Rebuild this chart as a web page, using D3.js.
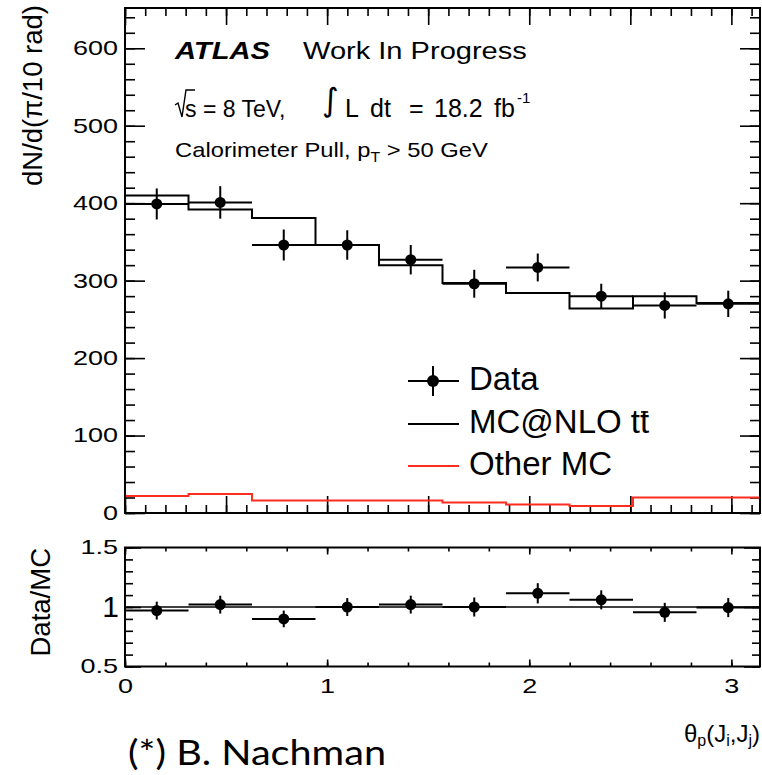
<!DOCTYPE html>
<html>
<head>
<meta charset="utf-8">
<style>
body { margin: 0; background: #fff; }
svg { display: block; font-family: "Liberation Sans", Arial, sans-serif; }
.frame { fill: none; stroke: #000; stroke-width: 2; }
.tick line { stroke: #000; stroke-width: 1.6; }
.tick text { fill: #000; }
.err { stroke: #000; stroke-width: 2; }
</style>
</head>
<body>
<svg id="svg" width="762" height="775"></svg>
<script src="https://cdn.jsdelivr.net/npm/d3@7"></script>
<script>
// bins of pi/10 in theta_p
var binEdges = [0, 0.3142, 0.6283, 0.9425, 1.2566, 1.5708, 1.8850, 2.1991, 2.5133, 2.8274, 3.1416];
var dataVals = [399, 401, 346, 346, 327, 296, 317, 280, 268, 270];
var dataErr = [20, 21, 20, 19, 19, 18, 18, 16, 17, 17];
var mcVals = [410, 392, 381, 346, 320, 297, 284, 264, 280, 271];
var otherVals = [22, 24.5, 16, 16, 16, 13.5, 11, 9, 20, 20];
var ratioVals = [0.97, 1.02, 0.90, 1.0, 1.02, 1.0, 1.115, 1.06, 0.955, 0.995];
var ratioErr = [0.075, 0.075, 0.07, 0.075, 0.075, 0.08, 0.085, 0.08, 0.08, 0.08];
var mainTicks = [0, 100, 200, 300, 400, 500, 600];
var ratioTicks = [0.5, 1, 1.5];
var xLabelTicks = [0, 1, 2, 3];
var legendNames = ["Data", "MC@NLO tt", "Other MC"];

var left = 125, right = 760;
var mainTop = 8, mainBottom = 513;
var ratioTop = 547.5, ratioBottom = 666.5;

var svg = d3.select("#svg");

var x = d3.scaleLinear().domain([0, Math.PI]).range([left, right]);
var y = d3.scaleLinear().domain([0, 652]).range([mainBottom, mainTop]);
var yr = d3.scaleLinear().domain([0.5, 1.5]).range([ratioBottom, ratioTop]);
var fmt = d3.format("~g");

function ticks(axisFn, scale, vals, size, tx, ty, withLabels) {
    var ax = axisFn(scale).tickValues(vals).tickSize(size).tickFormat(withLabels ? fmt : "");
    var g = svg.append("g")
        .attr("transform", "translate(" + tx + "," + ty + ")")
        .call(ax);
    g.select(".domain").remove();
    return g;
}
function steps(a, b, s) {
    // tick positions only
    return d3.range(Math.round((b - a) / s) + 1).map(function (i) { return +(a + i * s).toFixed(4); });
}

// ---- main pad ticks (all pointing inward, ROOT style)
var lab = ticks(d3.axisLeft, y, mainTicks, -20, left, 0, true).attr("font-size", 20);
lab.selectAll("text").attr("x", -7 / 1.35).attr("transform", "scale(1.35,1)").attr("font-family", "Liberation Sans");
ticks(d3.axisLeft, y, steps(0, 640, 20), -10, left, 0, false);
ticks(d3.axisRight, y, mainTicks, -20, right, 0, false);
ticks(d3.axisRight, y, steps(0, 640, 20), -10, right, 0, false);
ticks(d3.axisBottom, x, steps(0, 3, 0.5), -17, 0, mainBottom, false);
ticks(d3.axisBottom, x, steps(0, 3.1, 0.1), -8, 0, mainBottom, false);
ticks(d3.axisTop, x, steps(0, 3, 0.5), -17, 0, mainTop, false);
ticks(d3.axisTop, x, steps(0, 3.1, 0.1), -8, 0, mainTop, false);

// ---- histograms
var step = d3.line()
    .x(function (d) { return x(d[0]); })
    .y(function (d) { return y(d[1]); })
    .curve(d3.curveStepAfter);
function stepPts(vals) {
    var p = vals.map(function (v, i) { return [binEdges[i], v]; });
    p.push([binEdges[vals.length], vals[vals.length - 1]]);
    return p;
}
svg.append("path").attr("d", step(stepPts(mcVals)))
    .attr("fill", "none").attr("stroke", "#000").attr("stroke-width", 2);
svg.append("path").attr("d", step(stepPts(otherVals)))
    .attr("fill", "none").attr("stroke", "#ff2d1e").attr("stroke-width", 2);

// data points
var pts = svg.append("g").selectAll("g").data(dataVals).enter().append("g");
pts.append("line").attr("class", "err")
    .attr("x1", function (d, i) { return x(binEdges[i]); })
    .attr("x2", function (d, i) { return x(binEdges[i + 1]); })
    .attr("y1", function (d) { return y(d); }).attr("y2", function (d) { return y(d); });
pts.append("line").attr("class", "err")
    .attr("x1", function (d, i) { return x((binEdges[i] + binEdges[i + 1]) / 2); })
    .attr("x2", function (d, i) { return x((binEdges[i] + binEdges[i + 1]) / 2); })
    .attr("y1", function (d, i) { return y(d - dataErr[i]); })
    .attr("y2", function (d, i) { return y(d + dataErr[i]); });
pts.append("circle").attr("r", 5.5)
    .attr("cx", function (d, i) { return x((binEdges[i] + binEdges[i + 1]) / 2); })
    .attr("cy", function (d) { return y(d); });

svg.append("rect").attr("class", "frame")
    .attr("x", left).attr("y", mainTop).attr("width", right - left).attr("height", mainBottom - mainTop);

// ---- ratio pad
var rl = ticks(d3.axisLeft, yr, ratioTicks, -16, left, 0, true).attr("font-size", 20);
rl.selectAll("text").attr("x", -7 / 1.35).attr("transform", "scale(1.35,1)").attr("font-family", "Liberation Sans");
// the "1" label is drawn larger in the picture
rl.selectAll(".tick").filter(function (d) { return d === 1; }).select("text")
    .attr("font-size", 30).attr("x", -6).attr("transform", null);
ticks(d3.axisLeft, yr, steps(0.5, 1.5, 0.1), -8, left, 0, false);
ticks(d3.axisRight, yr, ratioTicks, -16, right, 0, false);
ticks(d3.axisRight, yr, steps(0.5, 1.5, 0.1), -8, right, 0, false);
var bl = ticks(d3.axisBottom, x, xLabelTicks, -7, 0, ratioBottom, true).attr("font-size", 20);
bl.selectAll("text").attr("y", 12).attr("transform", "scale(1.35,1)").attr("font-family", "Liberation Sans");
ticks(d3.axisBottom, x, steps(0, 3, 0.2), -4, 0, ratioBottom, false);
ticks(d3.axisTop, x, xLabelTicks, -7, 0, ratioTop, false);
ticks(d3.axisTop, x, steps(0, 3, 0.2), -4, 0, ratioTop, false);

svg.append("line").attr("x1", left).attr("x2", right)
    .attr("y1", yr(1)).attr("y2", yr(1)).attr("stroke", "#000").attr("stroke-width", 1.6);

var rp = svg.append("g").selectAll("g").data(ratioVals).enter().append("g");
rp.append("line").attr("class", "err")
    .attr("x1", function (d, i) { return x(binEdges[i]); })
    .attr("x2", function (d, i) { return x(binEdges[i + 1]); })
    .attr("y1", function (d) { return yr(d); }).attr("y2", function (d) { return yr(d); });
rp.append("line").attr("class", "err")
    .attr("x1", function (d, i) { return x((binEdges[i] + binEdges[i + 1]) / 2); })
    .attr("x2", function (d, i) { return x((binEdges[i] + binEdges[i + 1]) / 2); })
    .attr("y1", function (d, i) { return yr(d - ratioErr[i]); })
    .attr("y2", function (d, i) { return yr(d + ratioErr[i]); });
rp.append("circle").attr("r", 5.5)
    .attr("cx", function (d, i) { return x((binEdges[i] + binEdges[i + 1]) / 2); })
    .attr("cy", function (d) { return yr(d); });

svg.append("rect").attr("class", "frame")
    .attr("x", left).attr("y", ratioTop).attr("width", right - left).attr("height", ratioBottom - ratioTop);

// ---- axis titles
svg.append("text").attr("transform", "translate(42,5) rotate(-90)")
    .attr("text-anchor", "end").attr("font-size", 27.5).text("dN/d(\u03c0/10 rad)");
svg.append("text").attr("transform", "translate(50,548) rotate(-90)")
    .attr("text-anchor", "end").attr("font-size", 27.5).text("Data/MC");
var xt = svg.append("text").attr("x", 760).attr("y", 742).attr("text-anchor", "end").attr("font-size", 24);
xt.append("tspan").text("\u03b8");
xt.append("tspan").attr("font-size", 16).attr("dy", 4).text("p");
xt.append("tspan").attr("dy", -4).text("(J");
xt.append("tspan").attr("font-size", 16).attr("dy", 4).text("i");
xt.append("tspan").attr("dy", -4).text(",J");
xt.append("tspan").attr("font-size", 16).attr("dy", 4).text("j");
xt.append("tspan").attr("dy", -4).text(")");

// ---- ATLAS labels, stretched to the widths in the picture
function stretched(x0, x1, yb, size, str, opts) {
    var t = svg.append("text").attr("y", yb).attr("font-size", size).text(str);
    if (opts) for (var k in opts) t.attr(k, opts[k]);
    var w = t.node().getBBox().width;
    t.attr("transform", "translate(" + x0 + ",0) scale(" + ((x1 - x0) / w) + ",1)");
    return t;
}
stretched(175, 272, 59, 23, "ATLAS", { "font-weight": "bold", "font-style": "italic" });
stretched(303, 527, 59, 23, "Work In Progress");

// sqrt(s) = 8 TeV, int L dt = 18.2 fb-1
svg.append("path").attr("d", "M175,105 L178,103 L182,117 L186,90 L195,90")
    .attr("fill", "none").attr("stroke", "#000").attr("stroke-width", 1.4);
svg.append("text").attr("x", 185).attr("y", 117).attr("font-size", 23).text("s = 8 TeV,");
svg.append("text").attr("x", 322).attr("y", 111).attr("font-size", 32)
    .attr("font-family", "DejaVu Sans").text("\u222b");
// TLatex spreads these tokens, so place them one by one
var lumi = [["L", 345], ["dt", 370], ["=", 409], ["18.2", 434], ["fb", 494]];
svg.append("g").selectAll("text").data(lumi).enter().append("text")
    .attr("x", function (d) { return d[1]; }).attr("y", 117)
    .attr("font-size", 25).text(function (d) { return d[0]; });
svg.append("text").attr("x", 517).attr("y", 103).attr("font-size", 15).text("-1");

var cal = svg.append("text").attr("y", 157).attr("font-size", 21);
cal.append("tspan").text("Calorimeter Pull, p");
cal.append("tspan").attr("font-size", 14).attr("dy", 5).text("T");
cal.append("tspan").attr("dy", -5).text(" > 50 GeV");
var cw = cal.node().getBBox().width;
cal.attr("transform", "translate(175,0) scale(" + (313 / cw) + ",1)");

// ---- legend
var leg = svg.append("g");
var legY = [381, 424, 466];
leg.append("line").attr("class", "err").attr("x1", 408).attr("x2", 459).attr("y1", legY[0]).attr("y2", legY[0]);
leg.append("line").attr("class", "err").attr("x1", 433).attr("x2", 433).attr("y1", legY[0] - 15).attr("y2", legY[0] + 15);
leg.append("circle").attr("cx", 433).attr("cy", legY[0]).attr("r", 6);
leg.append("line").attr("x1", 408).attr("x2", 459).attr("y1", legY[1]).attr("y2", legY[1])
    .attr("stroke", "#000").attr("stroke-width", 2);
leg.append("line").attr("x1", 408).attr("x2", 459).attr("y1", legY[2]).attr("y2", legY[2])
    .attr("stroke", "#ff2d1e").attr("stroke-width", 2);
var lt = leg.selectAll("text.lab").data(legendNames).enter().append("text").attr("class", "lab")
    .attr("x", 469).attr("y", function (d, i) { return legY[i] + 8.5; })
    .attr("font-size", 33).text(function (d) { return d; });
// bar over the second t
var mcNode = lt.nodes()[1];
var n = legendNames[1].length - 1;
var p0 = mcNode.getStartPositionOfChar(n), p1 = mcNode.getEndPositionOfChar(n);
leg.append("line").attr("x1", p0.x + 1).attr("x2", p1.x - 1).attr("y1", 412).attr("y2", 412)
    .attr("stroke", "#000").attr("stroke-width", 1.6);

// credit line under the figure
svg.append("text").attr("x", 128).attr("y", 765).attr("font-family", "Lato").attr("font-size", 35)
    .attr("textLength", 258).attr("lengthAdjust", "spacingAndGlyphs").text("(*) B. Nachman");
</script>
</body>
</html>
